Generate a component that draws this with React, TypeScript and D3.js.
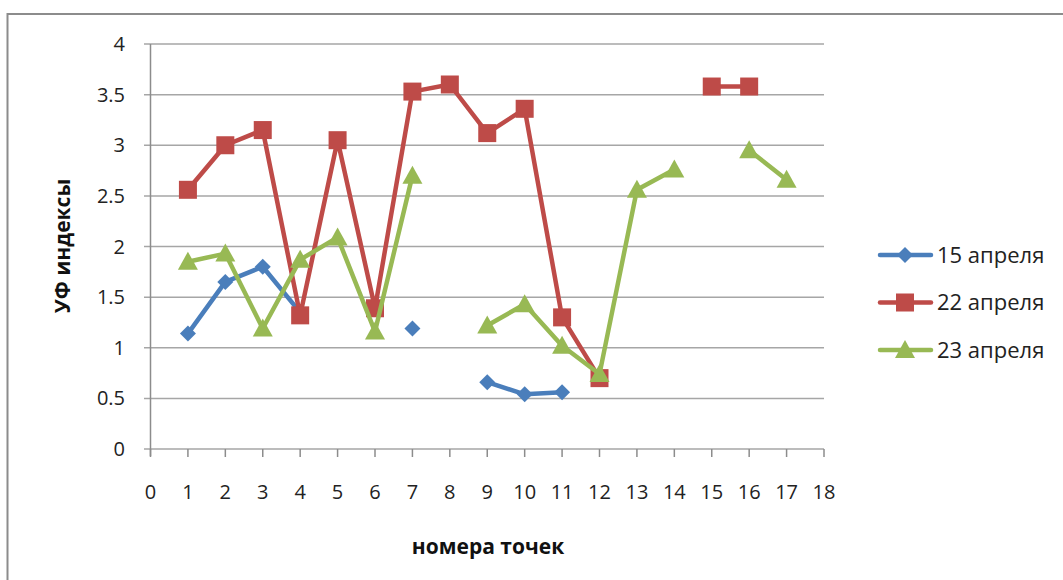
import React from "react";
import * as d3 from "d3";

const xTicks = d3.range(0, 19);
const yTicks = [0, 0.5, 1, 1.5, 2, 2.5, 3, 3.5, 4];
const points = d3.range(1, 18);

const s15: (number | null)[] = [1.14, 1.65, 1.8, 1.35, null, null, 1.19, null, 0.66, 0.54, 0.56, null, null, null, null, null, null];
const s22: (number | null)[] = [2.56, 3.0, 3.15, 1.32, 3.05, 1.39, 3.53, 3.6, 3.12, 3.36, 1.3, 0.7, null, null, 3.58, 3.58, null];
const s23: (number | null)[] = [1.85, 1.93, 1.19, 1.87, 2.09, 1.16, 2.7, null, 1.22, 1.43, 1.02, 0.74, 2.56, 2.76, null, 2.95, 2.66];

const seriesNames = ["15 апреля", "22 апреля", "23 апреля"];
const seriesColors = ["#4a7ebb", "#be4b48", "#98b954"];
const seriesShapes = ["diamond", "square", "triangle"];

const W = 1063;
const H = 580;
const FONT = "'Open Sans', Lato, sans-serif";

function Marker({ shape, x, y, color }: { shape: string; x: number; y: number; color: string }) {
  if (shape === "diamond") {
    const r = 8;
    return <path d={`M${x},${y - r}L${x + r},${y}L${x},${y + r}L${x - r},${y}Z`} fill={color} />;
  }
  if (shape === "square") {
    const r = 9;
    return <rect x={x - r} y={y - r} width={2 * r} height={2 * r} fill={color} />;
  }
  const r = 10;
  return <path d={`M${x},${y - r}L${x + r},${y + 8}L${x - r},${y + 8}Z`} fill={color} />;
}

export default function App() {
  const x = d3.scaleLinear().domain([0, 18]).range([150.5, 824]);
  const y = d3.scaleLinear().domain([0, 4]).range([449, 44]);
  const allSeries = [s15, s22, s23];
  const line = d3
    .line<[number, number | null]>()
    .defined((d) => d[1] !== null)
    .x((d) => x(d[0]))
    .y((d) => y(d[1] as number));

  return (
    <svg width={W} height={H} style={{ position: "absolute", left: 0, top: 0, background: "#fff" }}>
      <rect x={0} y={0} width={W} height={H} fill="#fff" />
      {/* outer border */}
      <line x1={7.5} y1={14} x2={W} y2={14} stroke="#8c8c8c" strokeWidth={2} />
      <line x1={7.5} y1={13} x2={7.5} y2={H} stroke="#8c8c8c" strokeWidth={2} />

      {/* gridlines */}
      {yTicks.map((t) => (
        <g key={t}>
          <line x1={144} x2={824} y1={y(t)} y2={y(t)} stroke="#a6a6a6" strokeWidth={1.5} />
          <text x={125} y={y(t)} dy="0.35em" textAnchor="end" fontFamily={FONT} fontSize={20} fill="#222">
            {t}
          </text>
        </g>
      ))}
      {/* axes */}
      <line x1={150.5} x2={150.5} y1={44} y2={456} stroke="#8c8c8c" strokeWidth={1.5} />
      {xTicks.map((t) => (
        <g key={t}>
          <line x1={x(t)} x2={x(t)} y1={449} y2={457} stroke="#8c8c8c" strokeWidth={1.5} />
          <text x={x(t)} y={492} dy="0.35em" textAnchor="middle" fontFamily={FONT} fontSize={20} fill="#222">
            {t}
          </text>
        </g>
      ))}

      {/* series */}
      {allSeries.map((s, i) => {
        const data: [number, number | null][] = points.map((p, j) => [p, s[j]]);
        return (
          <g key={i}>
            <path d={line(data) || ""} fill="none" stroke={seriesColors[i]} strokeWidth={4.5} strokeLinejoin="round" />
            {data
              .filter((d) => d[1] !== null)
              .map((d, k) => (
                <Marker key={k} shape={seriesShapes[i]} x={x(d[0])} y={y(d[1] as number)} color={seriesColors[i]} />
              ))}
          </g>
        );
      })}

      {/* axis titles */}
      <text
        transform={`translate(70,246) rotate(-90)`}
        textAnchor="middle"
        fontFamily={FONT}
        fontWeight="bold"
        fontSize={21}
        fill="#111"
      >
        УФ индексы
      </text>
      <text x={488} y={554} textAnchor="middle" fontFamily={FONT} fontWeight="bold" fontSize={21} fill="#111">
        номера точек
      </text>

      {/* legend */}
      {seriesNames.map((n, i) => {
        const cy = 255 + i * 47.5;
        return (
          <g key={n}>
            <line x1={880} x2={931} y1={cy} y2={cy} stroke={seriesColors[i]} strokeWidth={4.5} strokeLinecap="round" />
            <Marker shape={seriesShapes[i]} x={905} y={cy} color={seriesColors[i]} />
            <text x={937} y={cy} dy="0.35em" fontFamily={FONT} fontSize={22} fill="#222">
              {n}
            </text>
          </g>
        );
      })}
    </svg>
  );
}
